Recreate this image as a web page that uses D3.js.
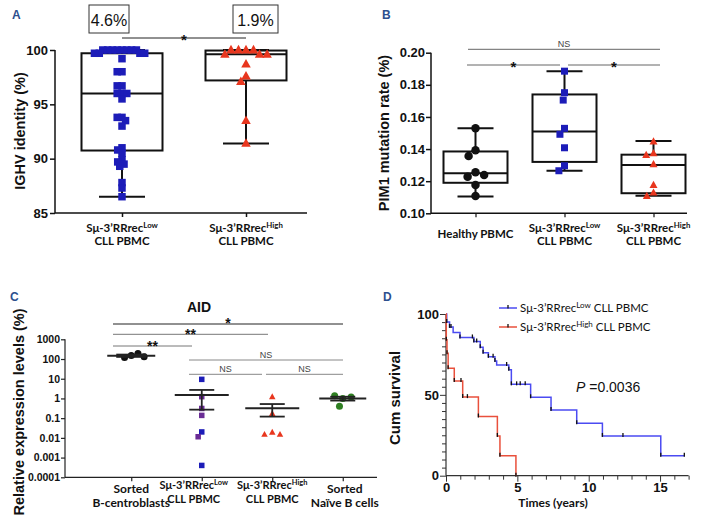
<!DOCTYPE html>
<html><head><meta charset="utf-8">
<script src="https://cdn.jsdelivr.net/npm/d3@7"></script>
<style>body{margin:0;background:#fff}svg{display:block}</style>
</head><body><svg id="chart" width="707" height="523"></svg>
<script>
// ---------------- DATA ----------------
// Panel A: IGHV identity (%)
const catsA = ["low", "high"];
const igvLow = [100,100,100,100,100,100,100,100,99.7,99.7,99.7,99.7,99.2,98.0,98.0,96.7,96.7,96.0,96.0,96.0,95.5,93.8,93.8,93.5,93.0,91.0,90.8,90.5,89.9,89.7,89.5,89.3,87.8,87.3,86.5];
const igvHigh = [100,100,100,100,99.6,99.6,99.6,98.7,97.6,97.1,93.5,91.4];
const aMin = [86.5, 91.4], aQ1 = [90.75, 97.2], aMed = [96.0, 99.6], aQ3 = [99.7, 99.95], aMax = [100, 100];
const aPct = ["4.6%", "1.9%"];
const aTicks = [85, 90, 95, 100];

// Panel B: PIM1 mutation rate (%)
const catsB = ["healthy", "low", "high"];
const pimHealthy = [0.153,0.1393,0.1357,0.1255,0.1228,0.1239,0.1176,0.1108];
const pimLow = [0.1885,0.1751,0.1705,0.1529,0.1492,0.1408,0.1296,0.1265];
const pimHigh = [0.1446,0.1373,0.1363,0.1305,0.1176,0.1128,0.1107];
const bMin = [0.1105,0.1265,0.111], bQ1 = [0.119,0.132,0.1125], bMed = [0.125,0.151,0.130], bQ3 = [0.1385,0.174,0.1365], bMax = [0.153,0.1885,0.145];
const bTicks = [0.10,0.12,0.14,0.16,0.18,0.20];

// Panel C: AID relative expression (%)
const catsC = ["centro", "low", "high", "naive"];
const aidCentro = [150,118,190,130];
const aidLow = [9.3,1.23,0.31,0.138,0.02,0.0114,0.0004];
const aidLowSub = ["b","p","p","p","b","p","b"];
const aidHigh = [1.2,0.17,0.019,0.015,0.015];
const aidNaive = [1.0,1.35,1.2,0.4];
const cMean = [148,1.5,0.32,1.0], cErrLo = [128,0.27,0.12,0.78], cErrHi = [168,2.7,0.52,1.22];
const cTicks = [0.0001,0.001,0.01,0.1,1,10,100,1000];
const cTickLabels = ["0.0001","0.001","0.01","0.1","1","10","100","1000"];

// Panel D: Kaplan-Meier
const kmLowT = [0,0.05,0.25,0.5,0.98,1.95,2.4,2.6,2.97,3.43,3.55,4.4,4.58,5.93,7.36,9.16,10.96,15.05,16.7];
const kmLowS = [100,95,92,88.5,85.5,83,79.5,76,73.5,71,68.5,65.5,56.5,48.5,40.7,32.4,24.6,12.3,12.3];
const kmLowCens = [0.05,0.25,0.35,0.98,1.85,1.95,2.15,2.4,2.6,2.97,3.3,3.43,4.25,4.4,4.58,4.95,5.2,5.55,5.93,7.36,9.16,10.96,12.4,15.05,16.7];
const kmHighT = [0,0.02,0.07,0.15,0.58,1.17,2.27,3.6,3.78,4.9];
const kmHighS = [100,84,75.8,66.5,58.5,48.6,36.6,24.6,12.4,0];
const kmHighCens = [0.02,0.07,0.15,0.58,1.05,1.17,1.5,2.27,3.6,3.78,4.9];
const dYTicks = [0,50,100];
const dXTicks = [0,5,10,15];

// ---------------- STYLE ----------------
const ARIAL = "'Liberation Sans', Arial, sans-serif";
const CAL = "Lato, 'Open Sans', sans-serif";
const LETTER = "#2d4f8e";
const BLUE = "#1c1cb8", PURPLE = "#6a2c95", RED = "#e8361e", GREEN = "#2f7f22";
const KMBLUE = "#4b4bf2", KMRED = "#e9503c";

const svg = d3.select("#chart");
svg.append("rect").attr("width",707).attr("height",523).attr("fill","#fff");

function letter(t,x,y){svg.append("text").attr("x",x).attr("y",y).text(t)
  .attr("font-family",ARIAL).attr("font-weight","bold").attr("font-size",12).attr("fill",LETTER);}

function yTitle(t,x,y,size){svg.append("text").attr("transform",`translate(${x},${y}) rotate(-90)`)
  .attr("text-anchor","middle").attr("font-family",ARIAL).attr("font-weight","bold")
  .attr("font-size",size).attr("fill","#111").text(t);}

// one text element per line; a line = array of [text, isSup]
function catLabel(x,y,lines,lh,size,weight){
  lines.forEach((ln,i)=>{
    const t = svg.append("text").attr("x",x).attr("y",y+i*lh).attr("text-anchor","middle")
      .attr("font-family",CAL).attr("font-weight",weight||"bold").attr("font-size",size).attr("fill","#111");
    ln.forEach(seg=>{
      const s = t.append("tspan").text(seg[0]);
      if(seg[1]) s.attr("font-size",size*0.68).attr("dy",-4.5);
    });
  });
}
const SLOW = [["Sμ-3’RRrec"],["Low",true]];
const SHIGH = [["Sμ-3’RRrec"],["High",true]];
const CLL = [["CLL PBMC"]];

function swarm(values, yScale, diam){
  const placed=[];
  return values.map((v,i)=>{
    const y=yScale(v);
    const c=[0];
    placed.forEach(p=>{const dy=Math.abs(p.y-y); if(dy<diam){const dx=Math.sqrt(diam*diam-dy*dy); c.push(p.x+dx,p.x-dx);}});
    c.sort((a,b)=>Math.abs(a)-Math.abs(b)||a-b);
    const x=c.find(cc=>placed.every(p=>(p.x-cc)**2+(p.y-y)**2>=diam*diam-0.01));
    placed.push({x,y}); return {v,x,y,i};
  });
}

function drawMarkers(pts,cx,shape,size,colorFn){
  const g = svg.append("g");
  pts.forEach(p=>{
    const col = colorFn(p);
    const X=cx+p.x, Y=p.y;
    if(shape==="square") g.append("rect").attr("x",X-size/2).attr("y",Y-size/2).attr("width",size).attr("height",size).attr("fill",col);
    else if(shape==="circle") g.append("circle").attr("cx",X).attr("cy",Y).attr("r",size/2).attr("fill",col);
    else { const h=size*0.9; g.append("path").attr("d",`M${X},${Y-h*0.6}L${X+size/2},${Y+h*0.4}L${X-size/2},${Y+h*0.4}Z`).attr("fill",col); }
  });
}

function boxplot(g,cx,w,cap,y,mn,q1,md,q3,mx,sw){
  const ln=(x1,y1,x2,y2)=>g.append("line").attr("x1",x1).attr("y1",y1).attr("x2",x2).attr("y2",y2).attr("stroke","#111").attr("stroke-width",sw);
  ln(cx,y(mx),cx,y(q3)); ln(cx,y(q1),cx,y(mn));
  ln(cx-cap/2,y(mx),cx+cap/2,y(mx)); ln(cx-cap/2,y(mn),cx+cap/2,y(mn));
  g.append("rect").attr("x",cx-w/2).attr("y",y(q3)).attr("width",w).attr("height",y(q1)-y(q3))
    .attr("fill","none").attr("stroke","#111").attr("stroke-width",sw);
  ln(cx-w/2,y(md),cx+w/2,y(md));
}

function bracket(x1,x2,y,label,col,lsize,ldy){
  svg.append("line").attr("x1",x1).attr("x2",x2).attr("y1",y).attr("y2",y).attr("stroke",col).attr("stroke-width",1);
  const mid=(x1+x2)/2;
  const star = label.indexOf("*")>=0;
  svg.append("text").attr("x",mid).attr("y",y+ldy)
    .attr("text-anchor","middle").attr("font-family",ARIAL).attr("font-weight",star?"bold":"normal")
    .attr("font-size",lsize).attr("fill",star?"#111":"#444").text(label);
}

// ================= PANEL A =================
letter("A",12,19);
const yA = d3.scaleLinear().domain([85,100]).range([213,50]);
const xA = d3.scalePoint().domain(catsA).range([60,308]).padding(0.5);
const gA = svg.append("g");
const axA = svg.append("g").attr("transform","translate(55,0)").call(d3.axisLeft(yA).tickValues(aTicks).tickSize(5).tickFormat(d3.format("d")));
axA.select(".domain").attr("d","M0,50V213").attr("stroke","#111").attr("stroke-width",1.5);
axA.selectAll(".tick line").attr("stroke","#111").attr("stroke-width",1.5);
axA.selectAll(".tick text").attr("font-family",ARIAL).attr("font-weight","bold").attr("font-size",13).attr("fill","#111").attr("x",-7);
const axAx = svg.append("g").attr("transform","translate(0,213)").call(d3.axisBottom(xA).tickSize(4).tickFormat(""));
axAx.select(".domain").attr("d","M55,0H307").attr("stroke","#111").attr("stroke-width",1.5);
axAx.selectAll(".tick line").attr("stroke","#111").attr("stroke-width",1.5);
catsA.forEach((c,i)=>boxplot(gA,xA(c),81,46,yA,aMin[i],aQ1[i],aMed[i],aQ3[i],aMax[i],2));
drawMarkers(swarm(igvLow,yA,4.8),xA("low"),"square",7.5,()=>BLUE);
drawMarkers(swarm(igvHigh,yA,7.5),xA("high"),"triangle",9.5,()=>RED);
yTitle("IGHV identity (%)",25,131,14.5);
catLabel(xA("low"),232,[SLOW,CLL],13,11.5);
catLabel(xA("high"),232,[SHIGH,CLL],13,11.5);
// percent boxes
[[-33,40],[-13,45]].forEach(([dx,w],i)=>{
  const x0 = xA(catsA[i]) + dx;
  svg.append("rect").attr("x",x0).attr("y",5).attr("width",w).attr("height",28).attr("fill","none").attr("stroke","#333").attr("stroke-width",1);
  svg.append("text").attr("x",x0+w/2).attr("y",26).attr("text-anchor","middle").attr("font-family",ARIAL).attr("font-size",16).attr("fill","#111").text(aPct[i]);
});
bracket(xA("low"),xA("high"),38,"*","#222",15,7);

// ================= PANEL B =================
letter("B",382,19);
const yB = d3.scaleLinear().domain([0.10,0.20]).range([213.3,52.7]);
const xB = d3.scalePoint().domain(catsB).range([431,698]).padding(0.5);
const axB = svg.append("g").attr("transform","translate(431,0)").call(d3.axisLeft(yB).tickValues(bTicks).tickSize(5).tickFormat(d3.format(".2f")));
axB.select(".domain").attr("d","M0,52.7V213.3").attr("stroke","#111").attr("stroke-width",1.5);
axB.selectAll(".tick line").attr("stroke","#111").attr("stroke-width",1.5);
axB.selectAll(".tick text").attr("font-family",ARIAL).attr("font-weight","bold").attr("font-size",13).attr("fill","#111").attr("x",-6);
const axBx = svg.append("g").attr("transform","translate(0,213.3)").call(d3.axisBottom(xB).tickSize(4).tickFormat(""));
axBx.select(".domain").attr("d","M431,0H687").attr("stroke","#111").attr("stroke-width",1.5);
axBx.selectAll(".tick line").attr("stroke","#111").attr("stroke-width",1.2);
const gB = svg.append("g");
catsB.forEach((c,i)=>boxplot(gB,xB(c),64,36,yB,bMin[i],bQ1[i],bMed[i],bQ3[i],bMax[i],2));
drawMarkers(swarm(pimHealthy,yB,9),xB("healthy"),"circle",8.5,()=>"#111");
drawMarkers(swarm(pimLow,yB,7.5),xB("low"),"square",7,()=>BLUE);
drawMarkers(swarm(pimHigh,yB,7.5),xB("high"),"triangle",8,()=>RED);
yTitle("PIM1 mutation rate (%)",389,133,14.5);
catLabel(xB("healthy"),238,[[["Healthy PBMC"]]],13,11.5);
catLabel(xB("low"),232,[SLOW,CLL],13,11.5);
catLabel(xB("high"),232,[SHIGH,CLL],13,11.5);
bracket(468,660,49.3,"NS","#666",9,-2.5);
bracket(467,560,65,"*","#666",15,7);
bracket(568,660,65,"*","#666",15,7);

// ================= PANEL C =================
letter("C",10,301);
const yC = d3.scaleLog().domain([1e-4,1e3]).range([477.3,339.3]);
const xC = d3.scalePoint().domain(catsC).range([96,378]).padding(0.5);
svg.append("text").attr("x",199).attr("y",312).attr("text-anchor","middle").attr("font-family",ARIAL).attr("font-weight","bold").attr("font-size",14).attr("fill","#111").text("AID");
const axC = svg.append("g").attr("transform","translate(65,0)").call(d3.axisLeft(yC).tickValues(cTicks).tickSize(4).tickFormat((d,i)=>cTickLabels[i]));
axC.select(".domain").attr("d","M0,339.3V477.3").attr("stroke","#222").attr("stroke-width",1.2);
axC.selectAll(".tick line").attr("stroke","#222").attr("stroke-width",1.2);
axC.selectAll(".tick text").attr("font-family",ARIAL).attr("font-weight","bold").attr("font-size",10.5).attr("fill","#111").attr("x",-5);
const axCx = svg.append("g").attr("transform","translate(0,477.3)").call(d3.axisBottom(xC).tickSize(4).tickFormat(""));
axCx.select(".domain").attr("d","M65,0H377").attr("stroke","#222").attr("stroke-width",1.2);
axCx.selectAll(".tick line").attr("stroke","#222").attr("stroke-width",1.2);
// points
drawMarkers(swarm(aidCentro,yC,7),xC("centro"),"circle",7,()=>"#111");
drawMarkers(swarm(aidLow,yC,6),xC("low"),"square",5.5,p=>aidLowSub[p.i]==="b"?BLUE:PURPLE);
drawMarkers(swarm(aidHigh,yC,8),xC("high"),"triangle",6.5,()=>RED);
drawMarkers(swarm(aidNaive,yC,8.5),xC("naive"),"circle",7,()=>GREEN);
// mean +/- SEM
const gC = svg.append("g");
catsC.forEach((c,i)=>{
  const cx=xC(c), w = i===0?48:(i===3?47:54), cap = i===0?30:25;
  gC.append("line").attr("x1",cx).attr("x2",cx).attr("y1",yC(cErrHi[i])).attr("y2",yC(cErrLo[i])).attr("stroke","#222").attr("stroke-width",1.8);
  [cErrHi[i],cErrLo[i]].forEach(v=>gC.append("line").attr("x1",cx-cap/2).attr("x2",cx+cap/2).attr("y1",yC(v)).attr("y2",yC(v)).attr("stroke","#222").attr("stroke-width",1.8));
  gC.append("line").attr("x1",cx-w/2).attr("x2",cx+w/2).attr("y1",yC(cMean[i])).attr("y2",yC(cMean[i])).attr("stroke","#222").attr("stroke-width",2);
});
yTitle("Relative expression levels (%)",24,412,14.5);
catLabel(xC("centro"),493,[[["Sorted"]],[["B-centroblasts"]]],14,12);
catLabel(xC("low")-8,489,[SLOW,CLL],14,11);
catLabel(xC("high"),489,[SHIGH,CLL],14,11);
catLabel(xC("naive")+2,493,[[["Sorted"]],[["Naïve B cells"]]],14,12);
bracket(113,343,324,"*","#222",14,3.5);
bracket(113,268,334.3,"**","#777",14,5);
bracket(113,192,346,"**","#777",14,5);
bracket(189,343,360,"NS","#888",9,-2.5);
bracket(189,262,374.3,"NS","#888",9,-2.5);
bracket(266,343,374.3,"NS","#888",9,-2.5);

// ================= PANEL D =================
letter("D",383,301);
const xD = d3.scaleLinear().domain([0,17]).range([446,688.6]);
const yD = d3.scaleLinear().domain([0,100]).range([475.7,314]);
const axDy = svg.append("g").attr("transform","translate(446,0)").call(d3.axisLeft(yD).tickValues(d3.range(0,101,5)).tickSize(3).tickFormat(d=>dYTicks.includes(d)?d:""));
axDy.select(".domain").attr("d","M0,314V475.7").attr("stroke","#333").attr("stroke-width",1.2);
axDy.selectAll(".tick line").attr("stroke","#333").attr("x2",d=>dYTicks.includes(d)?-6:-4);
axDy.selectAll(".tick text").attr("font-family",ARIAL).attr("font-weight","bold").attr("font-size",13).attr("fill","#111").attr("x",-7);
const axDx = svg.append("g").attr("transform","translate(0,475.7)").call(d3.axisBottom(xD).tickValues(d3.range(0,18,1)).tickSize(4).tickFormat(d=>dXTicks.includes(d)?d:""));
axDx.select(".domain").attr("d","M446,0H688.6").attr("stroke","#333").attr("stroke-width",1.2);
axDx.selectAll(".tick line").attr("stroke","#333").attr("y2",d=>dXTicks.includes(d)?6:4);
axDx.selectAll(".tick text").attr("font-family",ARIAL).attr("font-weight","bold").attr("font-size",13).attr("fill","#111").attr("y",7);
const step = d3.line().x(d=>xD(d[0])).y(d=>yD(d[1])).curve(d3.curveStepAfter);
const stepVal=(T,S,t)=>{let v=S[0];T.forEach((tt,i)=>{if(tt<=t+1e-9)v=S[i];});return v;};
svg.append("path").attr("d",step(kmLowT.map((t,i)=>[t,kmLowS[i]]))).attr("fill","none").attr("stroke",KMBLUE).attr("stroke-width",1.5);
svg.append("path").attr("d",step(kmHighT.map((t,i)=>[t,kmHighS[i]]))).attr("fill","none").attr("stroke",KMRED).attr("stroke-width",1.5);
kmLowCens.forEach(t=>{const y=yD(stepVal(kmLowT,kmLowS,t)); svg.append("line").attr("x1",xD(t)).attr("x2",xD(t)).attr("y1",y-3).attr("y2",y+1).attr("stroke","#111").attr("stroke-width",1.3);});
kmHighCens.forEach(t=>{const y=yD(stepVal(kmHighT,kmHighS,t)); svg.append("line").attr("x1",xD(t)).attr("x2",xD(t)).attr("y1",y-3).attr("y2",y+1).attr("stroke","#111").attr("stroke-width",1.3);});
yTitle("Cum survival",400,398,15);
catLabel(553,507,[[["Times (years)"]]],12,12);
// legend
[[KMBLUE,308,SLOW],[KMRED,327,SHIGH]].forEach(([col,y,lab])=>{
  svg.append("line").attr("x1",499).attr("x2",517).attr("y1",y).attr("y2",y).attr("stroke",col).attr("stroke-width",1.5);
  svg.append("line").attr("x1",508).attr("x2",508).attr("y1",y-3).attr("y2",y+0.5).attr("stroke","#111").attr("stroke-width",1.3);
  const t = svg.append("text").attr("x",520).attr("y",y+4).attr("font-family",CAL).attr("font-size",11.5).attr("fill","#111");
  t.append("tspan").text(lab[0][0]);
  t.append("tspan").text(lab[1][0]).attr("font-size",8).attr("dy",-4.5);
  t.append("tspan").text(" CLL PBMC").attr("dy",4.5);
});
const pt = svg.append("text").attr("x",576).attr("y",392).attr("font-family",ARIAL).attr("font-size",14).attr("fill","#111");
pt.append("tspan").text("P").attr("font-style","italic");
pt.append("tspan").text(" =0.0036");
</script></body></html>
